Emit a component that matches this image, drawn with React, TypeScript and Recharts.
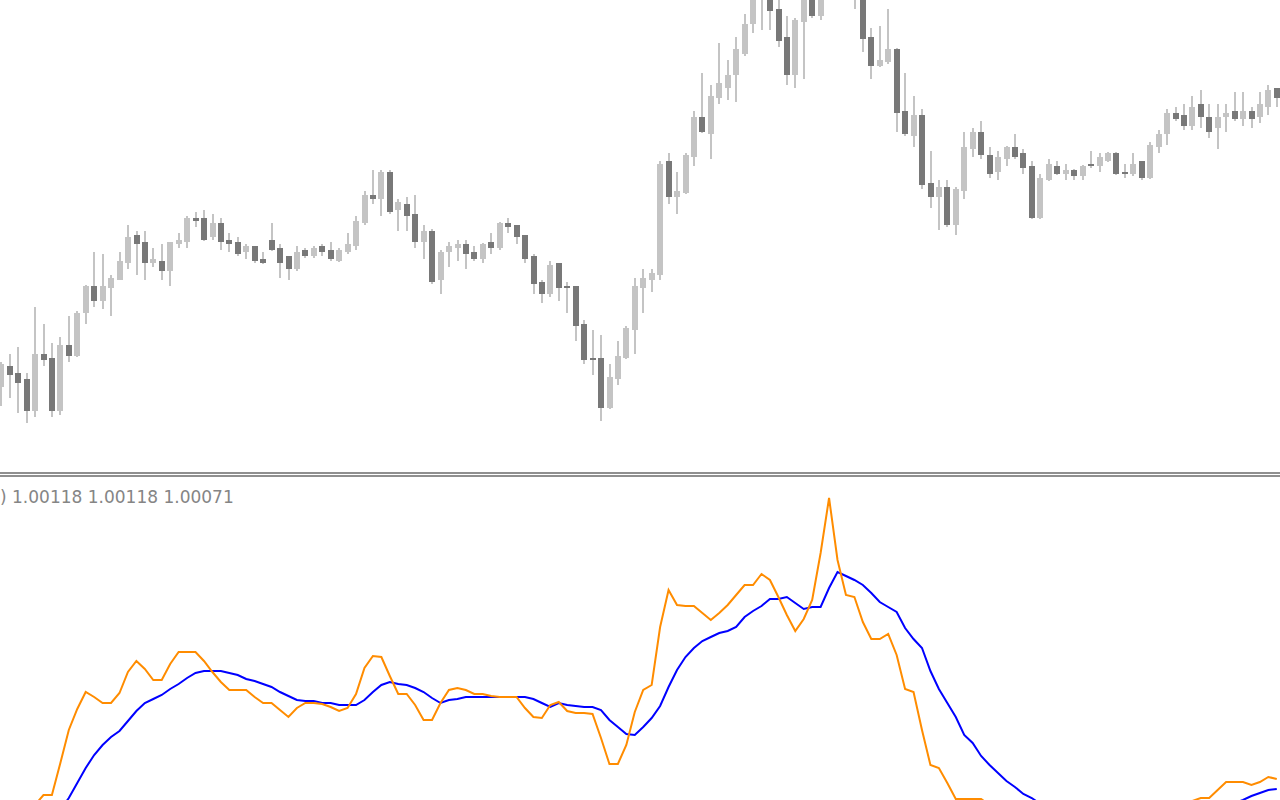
import { ComposedChart, Bar, Line, XAxis, YAxis } from "recharts";

// price panel, one entry per bar (arbitrary price units)
const opens = [
  83, 104, 97, 91, 59, 116, 112, 59, 125, 114,
  157, 184, 169, 182, 190, 207, 235, 228, 207, 209,
  199, 226, 228, 252, 252, 233, 247, 230, 228, 218,
  224, 211, 230, 222, 214, 201, 220, 214, 224, 220,
  209, 218, 224, 247, 275, 271, 298, 260, 266, 256,
  228, 239, 190, 218, 222, 226, 218, 211, 228, 222,
  247, 245, 235, 214, 188, 176, 207, 184, 184, 146,
  112, 112, 62, 91, 112, 140, 182, 190, 195, 309,
  273, 277, 313, 353, 336, 372, 382, 395, 416, 446,
  472, 484, 461, 433, 395, 448, 480, 454, 478, 494,
  482, 496, 476, 433, 404, 408, 421, 359, 334, 355,
  287, 273, 283, 245, 279, 321, 338, 315, 298, 311,
  323, 317, 304, 252, 290, 304, 296, 300, 294, 306,
  304, 309, 317, 298, 296, 309, 292, 323, 336, 357,
  355, 344, 366, 353, 342, 353, 359, 351, 359, 353,
  363, 382,
];
const highs = [
  108, 116, 123, 97, 163, 146, 127, 133, 154, 159,
  185, 218, 216, 195, 218, 245, 239, 239, 222, 226,
  228, 237, 254, 258, 260, 256, 252, 237, 233, 226,
  224, 218, 247, 226, 214, 224, 222, 224, 226, 228,
  222, 237, 254, 279, 300, 300, 300, 271, 273, 275,
  245, 241, 220, 228, 230, 230, 224, 227, 237, 248,
  252, 245, 235, 216, 190, 209, 207, 188, 184, 150,
  140, 135, 106, 129, 144, 192, 201, 201, 309, 317,
  298, 317, 359, 397, 385, 427, 410, 433, 456, 482,
  500, 494, 476, 454, 452, 490, 488, 486, 504, 502,
  506, 504, 484, 442, 444, 461, 422, 397, 374, 361,
  319, 290, 290, 283, 338, 342, 349, 323, 319, 324,
  336, 321, 309, 296, 311, 309, 306, 301, 305, 319,
  317, 318, 318, 306, 317, 309, 328, 340, 361, 363,
  366, 374, 380, 366, 366, 366, 378, 378, 363, 378,
  385, 382,
];
const lows = [
  64, 72, 57, 47, 53, 104, 53, 55, 108, 113,
  146, 163, 161, 154, 190, 201, 195, 190, 203, 190,
  184, 222, 222, 243, 229, 230, 220, 218, 214, 211,
  207, 206, 219, 192, 190, 199, 212, 212, 214, 209,
  208, 216, 220, 245, 266, 254, 256, 239, 239, 222,
  211, 186, 176, 203, 209, 201, 209, 207, 216, 220,
  237, 226, 207, 176, 167, 173, 169, 157, 129, 106,
  95, 49, 61, 85, 111, 116, 157, 178, 190, 266,
  256, 276, 304, 337, 311, 366, 370, 368, 414, 437,
  440, 440, 423, 385, 382, 391, 452, 450, 474, 476,
  476, 461, 418, 391, 403, 406, 338, 334, 323, 281,
  262, 240, 243, 235, 271, 313, 311, 292, 290, 304,
  311, 296, 251, 251, 289, 295, 290, 290, 290, 302,
  298, 308, 295, 292, 294, 290, 291, 317, 325, 349,
  340, 340, 342, 332, 321, 338, 349, 344, 342, 347,
  355, 363,
];
const closes = [
  106, 95, 87, 59, 116, 110, 59, 125, 114, 157,
  184, 169, 184, 192, 209, 233, 226, 207, 211, 199,
  228, 230, 252, 249, 230, 247, 228, 226, 216, 224,
  209, 207, 220, 207, 201, 218, 214, 222, 218, 211,
  220, 226, 249, 275, 271, 298, 258, 268, 254, 228,
  239, 188, 218, 224, 226, 216, 211, 226, 222, 247,
  243, 233, 211, 186, 176, 205, 182, 182, 144, 110,
  110, 62, 93, 114, 142, 184, 192, 197, 306, 273,
  279, 315, 353, 338, 374, 387, 395, 421, 446, 474,
  492, 459, 429, 395, 450, 482, 454, 478, 494, 484,
  496, 474, 431, 404, 410, 421, 357, 336, 355, 285,
  273, 283, 245, 281, 323, 338, 315, 296, 313, 323,
  313, 302, 252, 292, 306, 296, 300, 294, 304, 304,
  313, 317, 296, 296, 306, 292, 325, 336, 357, 351,
  344, 363, 353, 338, 353, 357, 351, 359, 351, 366,
  380, 372,
];

// indicator panel
const fastLine = [
  -40, -35, -25, -15, -5, 5, 5, 37, 70, 91,
  108, 103, 97, 97, 107, 128, 139, 131, 120, 120,
  136, 148, 148, 148, 139, 128, 118, 110, 110, 110,
  103, 97, 97, 90, 83, 92, 97, 97, 96, 93,
  89, 92, 106, 132, 144, 143, 124, 106, 106, 95,
  80, 80, 97, 110, 112, 110, 106, 106, 104, 103,
  103, 103, 92, 83, 82, 95, 98, 89, 87, 87,
  86, 62, 36, 36, 55, 88, 110, 115, 173, 210,
  195, 194, 194, 187, 180, 187, 195, 205, 215, 215,
  226, 220, 203, 185, 169, 181, 200, 247, 302, 240,
  205, 203, 178, 161, 161, 166, 145, 111, 108, 70,
  35, 32, 17, 1, 1, 1, 1, -5, -12, -20,
  -28, -35, -40, -44, -46, -47, -46, -44, -40, -36,
  -32, -28, -24, -20, -17, -14, -11, -8, -6, -4,
  -3, -1, 2, 2, 10, 18, 18, 18, 15, 18,
  23, 21,
];
const slowLine = [
  -80, -72, -64, -55, -45, -34, -22, -10, 2, 17,
  32, 45, 55, 63, 69, 79, 89, 97, 101, 105,
  111, 116, 122, 127, 129, 129, 129, 127, 125, 121,
  119, 116, 113, 108, 104, 100, 99, 99, 97, 97,
  95, 95, 95, 100, 108, 115, 118, 116, 115, 112,
  108, 102, 97, 100, 101, 103, 103, 103, 103, 103,
  103, 103, 103, 101, 97, 93, 97, 95, 94, 93,
  93, 90, 80, 73, 66, 65, 73, 82, 94, 113,
  130, 143, 152, 159, 163, 167, 169, 173, 183, 189,
  194, 201, 201, 203, 197, 191, 193, 193, 212, 228,
  224, 220, 215, 207, 198, 193, 188, 172, 161, 152,
  129, 111, 97, 83, 65, 57, 44, 35, 27, 19,
  13, 6, 2, -4, -8, -12, -15, -18, -21, -23,
  -25, -27, -28, -29, -30, -30, -30, -29, -28, -26,
  -24, -21, -18, -14, -10, -6, -3, 0, 4, 7,
  10, 11,
];
const indicatorValues = ["1.00118", "1.00118", "1.00071"];

const candles = opens.map((o, i) => ({
  i,
  open: o,
  high: highs[i],
  low: lows[i],
  close: closes[i],
  range: [lows[i], highs[i]],
}));

const lineData = fastLine.map((v, i) => ({ i, fast: v, slow: slowLine[i] }));

const WICK = "#c4c4c4";
const UP = "#c4c4c4";
const DOWN = "#787878";

function Candle(props: any) {
  const { x, y, width, height, payload } = props;
  if (payload == null) return null;
  const { open, close, high, low } = payload;
  const cx = x + width / 2;
  const top = Math.min(y, y + height);
  const h = Math.abs(height);
  const ppu = h / (high - low);
  const yOf = (v: number) => top + (high - v) * ppu;
  const bodyTop = yOf(Math.max(open, close));
  const bodyH = Math.max(1, Math.abs(open - close) * ppu);
  return (
    <g shapeRendering="crispEdges">
      <rect x={cx - 1} y={top} width={2} height={h} fill={WICK} />
      <rect x={cx - 3} y={bodyTop} width={6} height={bodyH} fill={close >= open ? UP : DOWN} />
    </g>
  );
}

export default function App() {
  return (
    <div
      style={{
        position: "fixed",
        left: 0,
        top: 0,
        width: 1280,
        height: 800,
        overflow: "hidden",
        background: "#ffffff",
      }}
    >
      <div style={{ position: "absolute", left: -3, top: 0 }}>
        <ComposedChart
          width={1284}
          height={470}
          data={candles}
          margin={{ top: 0, right: 0, bottom: 0, left: 0 }}
        >
          <XAxis dataKey="i" hide />
          <YAxis domain={[0, 470]} hide allowDataOverflow />
          <Bar dataKey="range" shape={<Candle />} isAnimationActive={false} />
        </ComposedChart>
      </div>

      <div style={{ position: "absolute", left: 0, top: 472, width: 1280, height: 2, background: "#8f8f8f" }} />
      <div style={{ position: "absolute", left: 0, top: 475, width: 1280, height: 2, background: "#8f8f8f" }} />

      <div style={{ position: "absolute", left: -3, top: 477 }}>
        <ComposedChart
          width={1284}
          height={323}
          data={lineData}
          margin={{ top: 0, right: 0, bottom: 0, left: 0 }}
        >
          <XAxis dataKey="i" type="number" domain={[-0.5, 151.5]} hide />
          <YAxis domain={[0, 323]} hide allowDataOverflow />
          <Line
            dataKey="slow"
            type="linear"
            stroke="#0000ff"
            strokeWidth={2}
            dot={false}
            isAnimationActive={false}
          />
          <Line
            dataKey="fast"
            type="linear"
            stroke="#ff8c00"
            strokeWidth={2}
            dot={false}
            isAnimationActive={false}
          />
        </ComposedChart>
      </div>

      <svg
        width={1280}
        height={30}
        style={{ position: "absolute", left: 0, top: 480 }}
      >
        <text
          x={0}
          y={22.7}
          fill="#858585"
          style={{ fontFamily: "'DejaVu Sans', sans-serif", fontSize: 17 }}
        >
          {") " + indicatorValues.join(" ")}
        </text>
      </svg>
    </div>
  );
}
